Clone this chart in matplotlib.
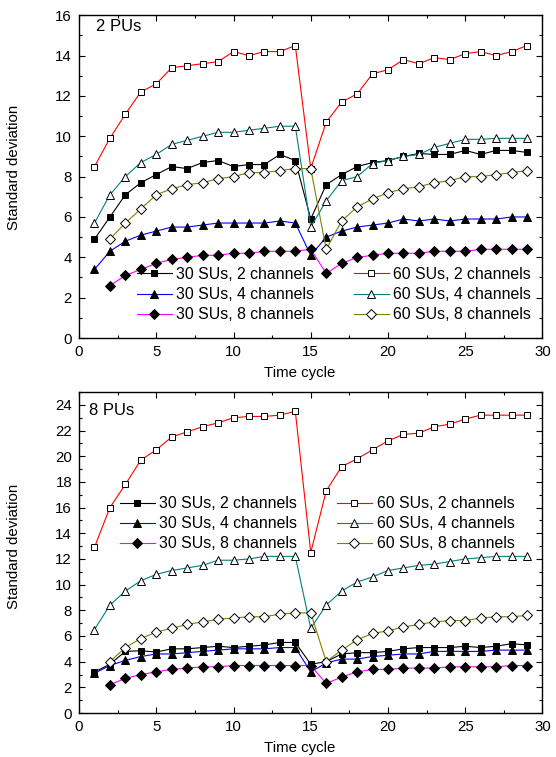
import matplotlib.pyplot as plt
import numpy as np

plt.rcParams['font.family'] = ['Liberation Sans', 'DejaVu Sans']
plt.rcParams['font.size'] = 10.8

cycles = list(range(1, 30))
cycles8 = list(range(2, 30))

# 2 PUs
s30c2_2 = [4.9, 6.0, 7.1, 7.7, 8.1, 8.5, 8.4, 8.7, 8.8, 8.5, 8.6, 8.6, 9.1, 8.8, 5.9,
           7.6, 8.1, 8.5, 8.7, 8.8, 9.0, 9.15, 9.1, 9.1, 9.3, 9.1, 9.3, 9.3, 9.2]
s30c4_2 = [3.4, 4.3, 4.8, 5.1, 5.3, 5.5, 5.5, 5.6, 5.7, 5.7, 5.7, 5.7, 5.8, 5.7, 4.1,
           5.0, 5.3, 5.5, 5.6, 5.7, 5.9, 5.8, 5.9, 5.8, 5.9, 5.9, 5.9, 6.0, 6.0]
s30c8_2 = [2.6, 3.1, 3.4, 3.7, 3.9, 4.0, 4.1, 4.1, 4.2, 4.2, 4.3, 4.3, 4.3, 4.4,
           3.2, 3.7, 4.0, 4.1, 4.2, 4.2, 4.2, 4.3, 4.3, 4.3, 4.4, 4.4, 4.4, 4.4]
s60c2_2 = [8.5, 9.9, 11.1, 12.2, 12.6, 13.4, 13.5, 13.6, 13.7, 14.2, 14.0, 14.2, 14.2, 14.5, 8.4,
           10.7, 11.7, 12.1, 13.1, 13.3, 13.8, 13.6, 13.9, 13.8, 14.1, 14.2, 14.0, 14.2, 14.5]
s60c4_2 = [5.7, 7.1, 8.0, 8.7, 9.1, 9.6, 9.8, 10.0, 10.2, 10.2, 10.3, 10.4, 10.5, 10.5, 5.5,
           6.8, 7.8, 8.0, 8.65, 8.8, 9.0, 9.1, 9.45, 9.65, 9.85, 9.85, 9.9, 9.9, 9.9]
s60c8_2 = [4.9, 5.7, 6.4, 7.1, 7.4, 7.6, 7.7, 7.9, 8.0, 8.2, 8.2, 8.3, 8.4, 8.4,
           4.4, 5.8, 6.5, 6.9, 7.2, 7.4, 7.5, 7.7, 7.8, 8.0, 8.0, 8.1, 8.2, 8.3]

# 8 PUs
s30c2_8 = [3.2, 3.8, 4.8, 4.85, 4.75, 5.0, 5.0, 5.1, 5.2, 5.1, 5.2, 5.3, 5.5, 5.5, 3.8,
           4.0, 4.6, 4.7, 4.7, 4.8, 5.0, 5.1, 5.1, 5.1, 5.2, 5.1, 5.2, 5.4, 5.3]
s30c4_8 = [3.1, 3.7, 4.1, 4.4, 4.6, 4.6, 4.7, 4.8, 4.9, 5.0, 5.0, 5.0, 5.1, 5.1, 3.2,
           3.9, 4.2, 4.2, 4.4, 4.5, 4.6, 4.6, 4.8, 4.8, 4.8, 4.8, 4.9, 4.9, 4.9]
s30c8_8 = [2.2, 2.7, 3.0, 3.2, 3.4, 3.5, 3.6, 3.6, 3.7, 3.7, 3.7, 3.7, 3.7, 3.7,
           2.3, 2.8, 3.2, 3.4, 3.4, 3.5, 3.5, 3.5, 3.6, 3.6, 3.6, 3.6, 3.7, 3.7]
s60c2_8 = [12.9, 16.0, 17.8, 19.7, 20.5, 21.5, 21.9, 22.3, 22.6, 23.0, 23.1, 23.1, 23.2, 23.5, 12.5,
           17.3, 19.2, 19.8, 20.5, 21.2, 21.7, 21.8, 22.3, 22.5, 22.9, 23.2, 23.2, 23.2, 23.2]
s60c4_8 = [6.5, 8.4, 9.5, 10.3, 10.8, 11.1, 11.3, 11.5, 11.9, 11.9, 12.0, 12.2, 12.2, 12.2, 6.6,
           8.4, 9.5, 10.2, 10.6, 11.1, 11.3, 11.5, 11.6, 11.8, 12.0, 12.1, 12.2, 12.2, 12.2]
s60c8_8 = [4.0, 5.1, 5.8, 6.3, 6.6, 6.9, 7.1, 7.3, 7.4, 7.5, 7.5, 7.7, 7.8, 7.8,
           4.0, 4.9, 5.7, 6.2, 6.4, 6.7, 6.9, 7.1, 7.2, 7.2, 7.4, 7.5, 7.5, 7.6]

labels = ['30 SUs, 2 channels', '30 SUs, 4 channels', '30 SUs, 8 channels',
          '60 SUs, 2 channels', '60 SUs, 4 channels', '60 SUs, 8 channels']
colors = ['black', '#0000FF', '#FF00FF', '#FF0000', '#008080', '#808000']
markers = ['s', '^', 'D', 's', '^', 'D']
msizes = [4.4, 5.6, 5.0, 4.4, 5.6, 5.0]
faces = ['black', 'black', 'black', 'white', 'white', 'white']

fig = plt.figure(figsize=(5.56, 7.57), dpi=100)
ax1 = fig.add_axes([0.1421, 0.5535, 0.8336, 0.4263])
ax2 = fig.add_axes([0.1421, 0.0581, 0.8336, 0.4240])


def draw(ax, series, ymax, tag, tagpos, legpos, ylab_y):
    for i, ys in enumerate(series):
        xs = cycles if len(ys) == 29 else cycles8
        ax.plot(xs, ys, color=colors[i], lw=0.8, marker=markers[i], ms=msizes[i],
                mfc=faces[i], mec='black', mew=0.7, label=labels[i])
    ax.set_xlim(0, 30)
    ax.set_ylim(0, ymax)
    ax.set_xticks(np.arange(0, 31, 5))
    ax.set_xticks(np.arange(0, 30.1, 2.5), minor=True)
    ax.set_yticks(np.arange(0, ymax + 0.1, 2))
    ax.set_yticks(np.arange(0, ymax + 0.1, 1), minor=True)
    ax.tick_params(which='both', direction='in', top=True, right=True)
    ax.tick_params(which='major', length=4, width=0.8, pad=5)
    ax.tick_params(which='minor', length=2, width=0.8)
    for sp in ax.spines.values():
        sp.set_linewidth(1.0)
    ax.set_xlabel('Time cycle')
    ax.set_ylabel('Standard deviation')
    ax.xaxis.set_label_coords(0.477, -0.087)
    ax.yaxis.set_label_coords(-0.125, ylab_y)
    ax.text(tagpos[0], tagpos[1], tag, transform=ax.transAxes, fontsize=12, va='center')
    ax.legend(loc='upper left', bbox_to_anchor=legpos, ncol=2, frameon=False,
              fontsize=11.4, borderaxespad=0, borderpad=0, handlelength=2.2,
              handletextpad=0.3, columnspacing=2.5, labelspacing=0.32)


draw(ax1, [s30c2_2, s30c4_2, s30c8_2, s60c2_2, s60c4_2, s60c8_2], 16, '2 PUs',
     (0.037, 0.965), (0.1245, 0.22), 0.53)
draw(ax2, [s30c2_8, s30c4_8, s30c8_8, s60c2_8, s60c4_8, s60c8_8], 25, '8 PUs',
     (0.022, 0.944), (0.088, 0.675), 0.52)

plt.savefig('out.png', dpi=100)
